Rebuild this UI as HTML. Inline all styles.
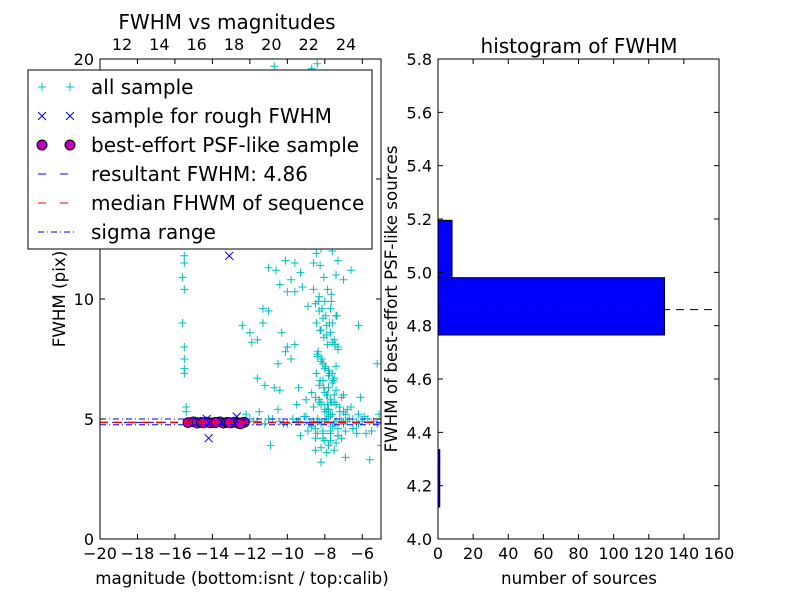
<!DOCTYPE html>
<html><head><meta charset="utf-8"><style>
body{margin:0;background:#fff;}
svg text{font-family:"DejaVu Sans","Liberation Sans",sans-serif;fill:#000;}
</style></head><body>
<svg id="chart" width="800" height="600" viewBox="0 0 800 600" xmlns="http://www.w3.org/2000/svg">
<rect width="800" height="600" fill="#fff"/>
<g id="left"></g>
<g id="right"></g>
</svg>
<script>
// ---- scatter data (magnitude, FWHM) ----
const allX = [-15.5,-15.5,-15.6,-15.5,-15.6,-15.5,-15.5,-15.5,-15.5,-15.4,-15.4,-15.3,
-11.3,-11,-12.4,-12,-11.9,-11.6,-11.3,-10.3,-10.5,-10.1,-10,-9.6,-9.8,-11.6,-11.2,-10.7,-10.4,-9.4,-10.5,-12.2,-11.5,-10.9,-9.8,-10.4,-9.6,-9.3,-10.1,-9.6,-11.0,-10.6,-10.0,-9.1,-8.6,-8.3,-9.1,-8.9,-8.8,-9.2,-8.5,-9.0,-8.7,-8.4,-10.7,-9.4,-8.1,-7.8,-8.2,-7.6,-7.0,-7.3,-6.6,-6.2,-5.2,-5.0,-5.1,-5.6,-6.9,-8.2,-8.5,
-8.5,-8.3,-8.1,-7.9,-7.7,-7.5,-7.3,-8.4,-8.2,-8.0,-7.8,-7.6,-7.4,-8.6,-8.3,-8.0,-7.7,-7.4,-8.2,-7.9,-7.6,-7.3,-8.4,-8.1,-7.8,-7.5,-8.3,-8.0,-7.7,-7.2,-8.5,-8.2,-7.9,-7.6,-8.1,-7.8,-7.5,-8.3,-8.0,-7.7,-7.4,-8.6,-8.2,-7.9,-7.6,-7.3,-8.0,-7.8,-7.5,-8.4,-8.1,-7.7,-7.4,-8.2,-7.9,-7.6,-8.9,-9.2,-9.5,-7.0,-6.8,-6.5,-6.3,-7.1,-6.9,
-12.0,-11.6,-11.2,-10.8,-10.4,-10.0,-9.7,-9.4,-9.1,-8.8,-8.6,-8.4,-8.2,-8.0,-7.8,-7.6,-7.4,-7.2,-7.0,-6.8,-6.5,-6.2,-6.0,-5.7,-5.4,-5.2,-11.8,-11.0,-10.2,-9.5,-9.0,-8.7,-8.3,-7.9,-7.5,-7.1,-6.7,-6.3,-5.9,-5.5,-8.5,-8.1,-7.7,-7.3,-6.9,-8.0,-7.6,-7.2,-7.8,-7.4,
-8.45,-8.25,-8.05,-7.85,-7.65,-7.45,-8.35,-8.15,-7.95,-7.75,-7.55,-7.35,-8.45,-8.25,-8.05,-7.85,-7.65,-8.35,-8.15,-7.95,-7.75,-7.55,-8.45,-8.25,-8.05,-7.85,-7.65,-7.45,-8.35,-8.15,-7.95,-7.75,-8.55,-8.35,-8.15,-7.95,-8.45,-8.25,-8.05,-7.85,
-9.0,-8.6,-8.2,-7.8,-7.4,-7.0,-6.6,-6.2,-5.8,-9.3,-8.9,-8.5,-8.1,-7.7,-7.3,-6.9,-6.5,-6.1,-8.7,-8.3,-7.9,-7.5,-7.1,-6.7];
const allY = [11.8,11.5,10.9,10.4,9.0,8.0,7.5,7.1,6.9,5.5,5.3,4.9,
9.6,9.5,8.9,8.6,8.2,8.3,9.0,8.6,7.3,7.8,8.0,8.1,7.5,6.7,6.4,6.3,6.2,6.3,5.4,5.2,5.3,3.9,10.8,10.6,10.3,11.1,11.6,11.5,11.3,11.2,10.3,12.2,13.3,12.9,13.9,14.8,16.4,17.2,17.6,18.2,19.6,19.8,19.7,15.3,14.7,13.9,16.0,12.0,10.8,11.6,11.2,8.9,7.3,3.9,5.2,3.3,3.4,3.2,3.7,
9.8,9.5,9.2,8.9,8.6,8.3,8.0,7.7,7.4,7.1,6.8,6.5,6.2,10.4,10.1,9.9,9.6,9.3,8.7,8.5,8.2,7.9,7.6,7.3,7.0,6.7,6.4,6.1,5.8,5.5,5.9,5.6,5.3,6.9,6.6,6.3,6.0,5.7,5.4,5.2,11.0,11.5,12.1,12.6,13.1,4.3,4.1,3.9,3.7,4.4,4.2,4.5,4.0,3.8,3.6,9.0,9.7,10.5,5.6,6.0,5.4,4.6,4.4,4.2,
4.9,5.0,4.9,4.8,5.0,4.9,4.8,5.0,4.9,5.1,4.8,4.9,5.0,4.8,4.9,5.1,4.7,4.9,5.0,4.8,4.9,5.0,4.8,4.9,5.0,4.9,4.8,4.9,5.0,4.8,4.9,5.1,4.7,4.9,5.0,4.8,4.9,5.0,4.8,5.1,4.5,4.6,4.5,4.4,4.6,5.2,5.3,5.2,5.3,5.4,
7.2,6.9,6.6,6.3,6.0,5.7,8.1,7.8,7.5,7.2,6.9,6.6,9.3,9.0,8.7,8.4,8.1,10.2,9.9,9.6,9.3,9.0,12.4,11.9,11.4,10.9,10.4,9.9,13.8,13.4,12.9,12.4,15.4,15.0,14.5,14.1,18.5,17.9,17.3,16.7,
5.6,5.8,5.5,5.7,5.4,5.6,5.3,5.5,5.2,4.4,4.3,4.5,4.2,4.4,4.1,4.3,4.5,4.6,5.9,6.1,5.8,6.0,5.7,5.9];
const roughX = [-13.1,-14.2,-12.7,-14.3,-13.6,-12.4,-15.0];
const roughY = [11.8,4.2,5.1,5.0,4.8,4.9,4.9];
const bestX = [-15.3,-15.0,-14.8,-14.6,-14.3,-14.1,-13.9,-13.6,-13.4,-13.2,-13.0,-12.8,-12.6,-12.4,-12.3,-14.5,-13.8,-13.1,-12.5];
const bestY = [4.85,4.88,4.83,4.86,4.87,4.84,4.85,4.88,4.83,4.86,4.84,4.87,4.82,4.85,4.86,4.84,4.86,4.85,4.80];
const resultantFWHM = 4.86;
const medianFWHM = 4.86;
const sigmaLow = 4.76, sigmaHigh = 5.0;
const xTicksBottom = [-20,-18,-16,-14,-12,-10,-8,-6];
const xTicksTop = [12,14,16,18,20,22,24];
const yTicksLeft = [0,5,10,15,20];
// ---- histogram data ----
const binEdges = [4.12,4.335,4.55,4.765,4.98,5.195];
const binCounts = [1,0,0,129,8];
const histXTicks = [0,20,40,60,80,100,120,140,160];
const histYTicks = [4.0,4.2,4.4,4.6,4.8,5.0,5.2,5.4,5.6,5.8];

const NS="http://www.w3.org/2000/svg";
function mk(parent,tag,attrs,txt){const e=document.createElementNS(NS,tag);for(const k in attrs)e.setAttribute(k,attrs[k]);if(txt!==undefined)e.textContent=txt;parent.appendChild(e);return e;}

const L={x0:100,x1:381,y0:59,y1:539};
const lx=v=>L.x0+(v+20)/15*(L.x1-L.x0);
const ly=v=>L.y1-v/20*(L.y1-L.y0);
const tx=v=>122+(v-12)*(224/12);
const left=document.getElementById('left');

function plus(g,x,y,c){mk(g,'path',{d:`M${x-4} ${y}h8M${x} ${y-4}v8`,stroke:c,'stroke-width':1,fill:'none'});}
function cross(g,x,y,c){mk(g,'path',{d:`M${x-4} ${y-4}l8 8M${x-4} ${y+4}l8 -8`,stroke:c,'stroke-width':1,fill:'none'});}

const clip=mk(left,'clipPath',{id:'lclip'});
mk(clip,'rect',{x:L.x0,y:L.y0,width:L.x1-L.x0,height:L.y1-L.y0});
const pts=mk(left,'g',{'clip-path':'url(#lclip)'});


for(let i=0;i<allX.length;i++)plus(pts,lx(allX[i]),ly(allY[i]),'#00bfbf');
const rg=mk(left,'g',{'clip-path':'url(#lclip)'});


for(let i=0;i<roughX.length;i++)cross(rg,lx(roughX[i]),ly(roughY[i]),'#0000ff');
const bg=mk(left,'g',{});


for(let i=0;i<bestX.length;i++)mk(bg,'circle',{cx:lx(bestX[i]),cy:ly(bestY[i]),r:5,fill:'#bf00bf',stroke:'#000','stroke-width':0.8});
let e;
e=mk(left,'line',{x1:L.x0,x2:L.x1,y1:ly(sigmaHigh),y2:ly(sigmaHigh),stroke:'#0000ff','stroke-dasharray':'6 3 1 3'});

e=mk(left,'line',{x1:L.x0,x2:L.x1,y1:ly(sigmaLow),y2:ly(sigmaLow),stroke:'#0000ff','stroke-dasharray':'6 3 1 3'});

e=mk(left,'line',{x1:L.x0,x2:L.x1,y1:ly(resultantFWHM),y2:ly(resultantFWHM),stroke:'#0000ff','stroke-dasharray':'6 6'});

e=mk(left,'line',{x1:L.x0,x2:L.x1,y1:ly(medianFWHM),y2:ly(medianFWHM),stroke:'#ff0000','stroke-width':1.5,'stroke-dasharray':'8 6'});

mk(left,'rect',{x:L.x0,y:L.y0,width:L.x1-L.x0,height:L.y1-L.y0,fill:'none',stroke:'#000'});
xTicksBottom.forEach(v=>{const x=lx(v);mk(left,'path',{d:`M${x} ${L.y1}v-5M${x} ${L.y0}v5`,stroke:'#000'});
 mk(left,'text',{x:x,y:559,'font-size':16,'text-anchor':'middle'},(v<0?'\u2212':'')+Math.abs(v));});
xTicksTop.forEach(v=>{const x=tx(v);mk(left,'text',{x:x,y:50,'font-size':16,'text-anchor':'middle'},String(v));});
yTicksLeft.forEach(v=>{const y=ly(v);mk(left,'path',{d:`M${L.x0} ${y}h5M${L.x1} ${y}h-5`,stroke:'#000'});
 mk(left,'text',{x:94,y:y+6,'font-size':16,'text-anchor':'end'},String(v));});
mk(left,'text',{x:227,y:29,'font-size':20,'text-anchor':'middle'},'FWHM vs magnitudes');
mk(left,'text',{x:242,y:584,'font-size':16.7,'text-anchor':'middle'},'magnitude (bottom:isnt / top:calib)');
mk(left,'text',{x:0,y:0,'font-size':16.7,'text-anchor':'middle',transform:'translate(65,299) rotate(-90)'},'FWHM (pix)');
const lg=mk(left,'g',{});


mk(lg,'rect',{x:28,y:70,width:344,height:179,fill:'#fff',stroke:'#000'});
const labels=['all sample','sample for rough FWHM','best-effort PSF-like sample','resultant FWHM: 4.86','median FHWM of sequence','sigma range'];
labels.forEach((t,i)=>{const y=87+i*29;
 if(i==0){plus(lg,42,y,'#00bfbf');plus(lg,70,y,'#00bfbf');}
 if(i==1){cross(lg,42,y,'#0000ff');cross(lg,70,y,'#0000ff');}
 if(i==2){mk(lg,'circle',{cx:42,cy:y,r:5,fill:'#bf00bf',stroke:'#000'});mk(lg,'circle',{cx:70,cy:y,r:5,fill:'#bf00bf',stroke:'#000'});}
 if(i==3)mk(lg,'line',{x1:38,x2:76,y1:y,y2:y,stroke:'#0000ff','stroke-dasharray':'8 14'});
 if(i==4)mk(lg,'line',{x1:38,x2:76,y1:y,y2:y,stroke:'#ff0000','stroke-dasharray':'8 14'});
 if(i==5)mk(lg,'line',{x1:38,x2:76,y1:y,y2:y,stroke:'#0000ff','stroke-dasharray':'6 3 1 3'});
 const te=mk(lg,'text',{x:91,y:y+7,'font-size':20},t);
 
});

const R={x0:438,x1:719,y0:59,y1:539};
const rx=v=>R.x0+v/160*(R.x1-R.x0);
const ry=v=>R.y1-(v-4.0)/1.8*(R.y1-R.y0);
const right=document.getElementById('right');
for(let i=0;i<binCounts.length;i++){if(binCounts[i]<=0)continue;
 const b=mk(right,'rect',{x:rx(0),y:ry(binEdges[i+1]),width:rx(binCounts[i])-rx(0),height:ry(binEdges[i])-ry(binEdges[i+1]),fill:'#0000ff',stroke:'#000','stroke-width':1});
 }
e=mk(right,'line',{x1:rx(0),x2:rx(156),y1:ry(resultantFWHM),y2:ry(resultantFWHM),stroke:'#000','stroke-dasharray':'8 6'});

mk(right,'rect',{x:R.x0,y:R.y0,width:R.x1-R.x0,height:R.y1-R.y0,fill:'none',stroke:'#000'});
histXTicks.forEach(v=>{const x=rx(v);mk(right,'path',{d:`M${x} ${R.y1}v-5M${x} ${R.y0}v5`,stroke:'#000'});
 mk(right,'text',{x:x,y:559,'font-size':16,'text-anchor':'middle'},String(v));});
histYTicks.forEach(v=>{const y=ry(v);mk(right,'path',{d:`M${R.x0} ${y}h5M${R.x1} ${y}h-5`,stroke:'#000'});
 mk(right,'text',{x:432,y:y+6,'font-size':16,'text-anchor':'end'},v.toFixed(1));});
mk(right,'text',{x:579,y:53,'font-size':20,'text-anchor':'middle'},'histogram of FWHM');
mk(right,'text',{x:579,y:584,'font-size':16.7,'text-anchor':'middle'},'number of sources');
mk(right,'text',{x:0,y:0,'font-size':16.7,'text-anchor':'middle',transform:'translate(397,299) rotate(-90)'},'FWHM of best-effort PSF-like sources');
</script>
</body></html>
